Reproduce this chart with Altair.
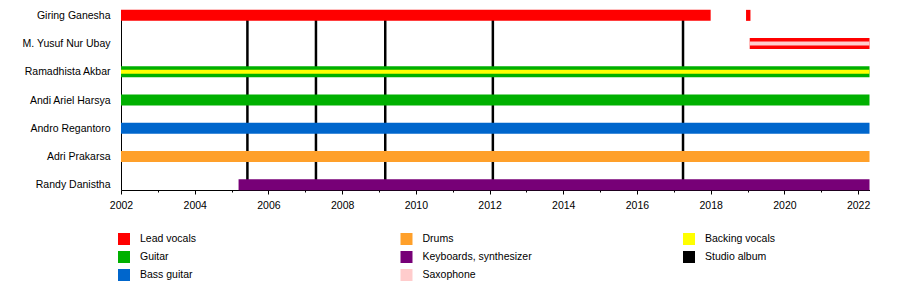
import altair as alt
import pandas as pd

# ---- data ----
members = ["Giring Ganesha", "M. Yusuf Nur Ubay", "Ramadhista Akbar",
           "Andi Ariel Harsya", "Andro Regantoro", "Adri Prakarsa", "Randy Danistha"]

# legend order (column-major, 3 columns)
roles = ["Lead vocals", "Guitar", "Bass guitar",
         "Drums", "Keyboards, synthesizer", "Saxophone",
         "Backing vocals", "Studio album"]
role_colors = ["#ff0000", "#00b000", "#0066cc",
               "#ffa02a", "#770077", "#ffcccc",
               "#ffff00", "#000000"]

# main bars
bar_member = ["Giring Ganesha", "Giring Ganesha", "M. Yusuf Nur Ubay", "Ramadhista Akbar",
              "Andi Ariel Harsya", "Andro Regantoro", "Adri Prakarsa", "Randy Danistha"]
bar_start = [2002.0, 2018.96, 2019.06, 2002.0, 2002.0, 2002.0, 2002.0, 2005.19]
bar_end = [2018.0, 2019.08, 2022.31, 2022.31, 2022.31, 2022.31, 2022.31, 2022.31]
bar_role = ["Lead vocals", "Lead vocals", "Lead vocals", "Guitar",
            "Guitar", "Bass guitar", "Drums", "Keyboards, synthesizer"]

# inner (secondary role) stripes
stripe_member = ["M. Yusuf Nur Ubay", "Ramadhista Akbar"]
stripe_start = [2019.06, 2002.0]
stripe_end = [2022.31, 2022.31]
stripe_role = ["Saxophone", "Backing vocals"]

# studio albums
album_year = [2005.43, 2007.29, 2009.17, 2012.09, 2017.25]

x_domain = [2002, 2022.31]
year_ticks = list(range(2002, 2023))

# ---- tables ----
bars = pd.DataFrame({"member": bar_member, "start": bar_start, "end": bar_end, "role": bar_role})
stripes = pd.DataFrame({"member": stripe_member, "start": stripe_start, "end": stripe_end, "role": stripe_role})
albums = pd.DataFrame({"year": album_year, "top": members[0], "bottom": members[-1],
                       "role": "Studio album"})

FONT = "Liberation Sans"

xscale = alt.Scale(domain=x_domain, nice=False, zero=False)
yscale = alt.Scale(domain=members, type="point", padding=0.19)
cscale = alt.Scale(domain=roles, range=role_colors)

legend = alt.Legend(title=None, orient="none", legendX=-3, legendY=223, columns=3,
                    gridAlign="all", columnPadding=150.5, rowPadding=6,
                    symbolType="square", symbolSize=144, symbolStrokeWidth=0,
                    labelOffset=10, labelFont=FONT, labelFontSize=10.5,
                    labelColor="black", padding=0)

xaxis = alt.Axis(title=None, values=year_ticks, format="d", grid=False, labelFlush=False,
                 labelExpr="datum.value % 2 === 0 ? datum.label : ''",
                 tickSize={"condition": {"test": "datum.value % 2 === 0", "value": 4}, "value": 2},
                 tickColor="black", domainColor="black", labelFont=FONT,
                 labelFontSize=10.5, labelColor="black", labelPadding=6)
yaxis = alt.Axis(title=None, ticks=False, labelPadding=11, domainColor="black",
                 labelFont=FONT, labelFontSize=10.5, labelColor="black", grid=False)

album_layer = alt.Chart(albums).mark_rule(strokeWidth=2.5).encode(
    x=alt.X("year:Q", scale=xscale, axis=xaxis),
    y=alt.Y("top:N", scale=yscale, axis=yaxis),
    y2="bottom:N",
    color=alt.Color("role:N", scale=cscale, legend=legend),
)

bar_layer = alt.Chart(bars).mark_bar(size=11).encode(
    x=alt.X("start:Q", scale=xscale, axis=xaxis),
    x2="end:Q",
    y=alt.Y("member:N", scale=yscale, axis=yaxis),
    color=alt.Color("role:N", scale=cscale, legend=legend),
)

stripe_layer = alt.Chart(stripes).mark_bar(size=4).encode(
    x=alt.X("start:Q", scale=xscale, axis=xaxis),
    x2="end:Q",
    y=alt.Y("member:N", scale=yscale, axis=yaxis),
    color=alt.Color("role:N", scale=cscale, legend=legend),
)

chart = alt.layer(album_layer, bar_layer, stripe_layer).properties(
    width=748.5, height=180,
    autosize=alt.AutoSizeParams(type="none"),
    padding={"left": 121, "top": 10, "right": 30, "bottom": 100},
).configure_view(stroke=None)

chart.save("out.html", embed_options={"renderer": "svg", "actions": False})
